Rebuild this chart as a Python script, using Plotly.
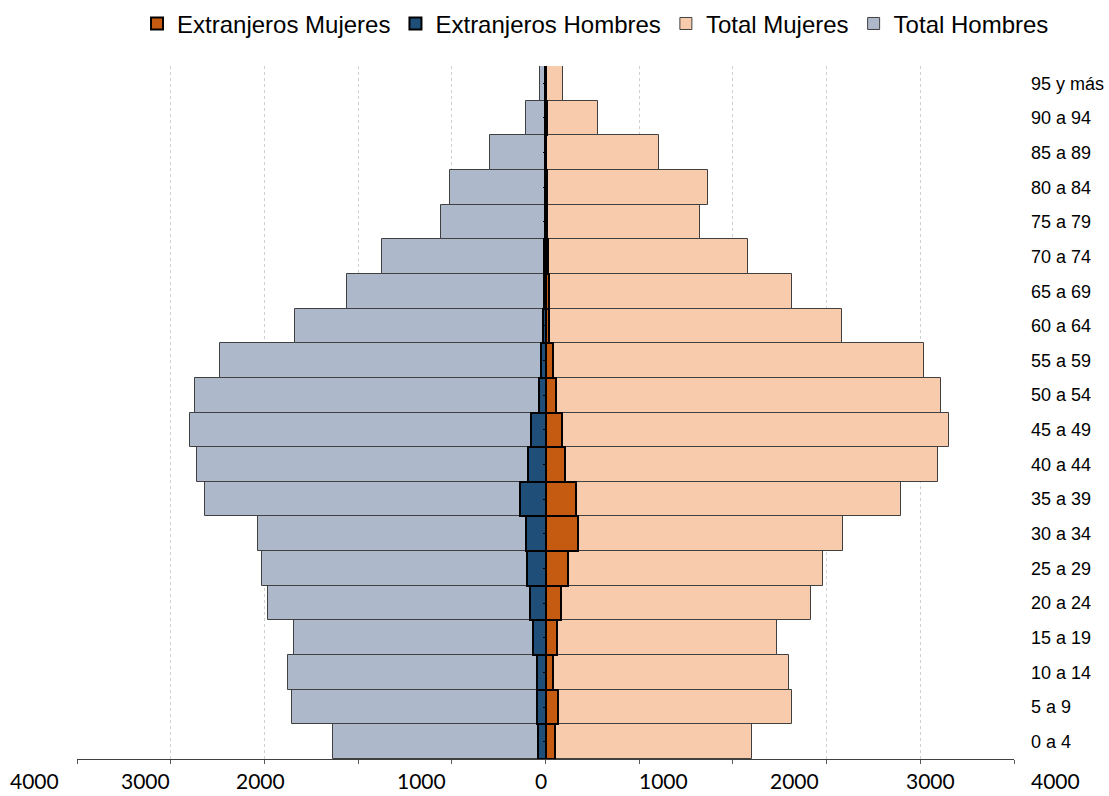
import plotly.graph_objects as go

edades = ['0 a 4', '5 a 9', '10 a 14', '15 a 19', '20 a 24', '25 a 29', '30 a 34',
          '35 a 39', '40 a 44', '45 a 49', '50 a 54', '55 a 59', '60 a 64', '65 a 69',
          '70 a 74', '75 a 79', '80 a 84', '85 a 89', '90 a 94', '95 y más']

total_hombres = [1702, 2033, 2065, 2017, 2225, 2273, 2305, 2729, 2793, 2844,
                 2804, 2609, 2006, 1590, 1307, 835, 768, 445, 160, 48]
total_mujeres = [1649, 1977, 1951, 1849, 2129, 2221, 2381, 2845, 3138, 3229,
                 3165, 3026, 2373, 1975, 1617, 1235, 1297, 912, 422, 139]
ext_hombres = [58, 66, 69, 101, 122, 149, 157, 202, 141, 117,
               50, 37, 22, 12, 12, 7, 7, 4, 7, 3]
ext_mujeres = [72, 102, 62, 96, 123, 179, 264, 246, 158, 134,
               86, 62, 30, 24, 16, 10, 10, 6, 10, 4]

# etiquetas del eje inferior (texto suelto, como en el original)
eje_textos = ['4000', '3000', '2000', '1000', '0', '1000', '2000', '3000', '4000']
eje_pos = [-4092, -3204, -2280, -995, -38, 942, 1997, 3085, 4084]

XMAX = 3750
W, H = 1109, 796
ML, MR, MT, MB = 77, 95, 66, 37

def neg(vals):
    return [-v for v in vals]

fig = go.Figure()
fig.add_trace(go.Bar(
    y=edades, x=neg(total_hombres), name='Total Hombres', orientation='h',
    marker=dict(color='#ADB9CA', line=dict(color='#404040', width=1)),
    legendrank=4
))
fig.add_trace(go.Bar(
    y=edades, x=total_mujeres, name='Total Mujeres', orientation='h',
    marker=dict(color='#F8CBAD', line=dict(color='#404040', width=1)),
    legendrank=3
))
fig.add_trace(go.Bar(
    y=edades, x=neg(ext_hombres), name='Extranjeros Hombres', orientation='h',
    marker=dict(color='#1F4E79', line=dict(color='#000000', width=2)),
    legendrank=2
))
fig.add_trace(go.Bar(
    y=edades, x=ext_mujeres, name='Extranjeros Mujeres', orientation='h',
    marker=dict(color='#C55A11', line=dict(color='#000000', width=2)),
    legendrank=1
))

plot_h = H - MT - MB
annotations = [
    dict(text=t, x=(p + XMAX) / (2 * XMAX), y=-(780 - (H - MB)) / plot_h,
         xref='paper', yref='paper', showarrow=False, xanchor='center', yanchor='middle',
         font=dict(family='Lato, Carlito, sans-serif', size=21, color='#000000'))
    for t, p in zip(eje_textos, eje_pos)
]

fig.update_layout(
    width=W, height=H,
    margin=dict(l=ML, r=MR, t=MT, b=MB, autoexpand=False),
    paper_bgcolor='white', plot_bgcolor='white',
    barmode='overlay', bargap=0,
    showlegend=True,
    legend=dict(
        orientation='h', xref='container', yref='container',
        x=0.537, xanchor='center', y=0.97, yanchor='middle',
        font=dict(family='Liberation Sans, Arial, sans-serif', size=24, color='#000000'),
        itemwidth=30, traceorder='normal'
    ),
    xaxis=dict(
        range=[-XMAX, XMAX], tick0=0, dtick=750, showticklabels=False,
        ticks='outside', ticklen=4, tickcolor='#595959',
        showline=True, linecolor='#404040', linewidth=1,
        showgrid=True, gridcolor='#CFCFCF', griddash='dot', gridwidth=1,
        zeroline=False, fixedrange=True, automargin=False
    ),
    yaxis=dict(
        type='category', range=[-0.5, len(edades) - 0.5], side='right',
        ticks='', ticklabelstandoff=16, showline=False, showgrid=False, automargin=False,
        tickfont=dict(family='Liberation Sans, Arial, sans-serif', size=18, color='#000000')
    ),
    yaxis2=dict(
        overlaying='y', anchor='free', position=0.5, side='left',
        range=[-0.5, len(edades) - 0.5], tickvals=list(range(len(edades))),
        showticklabels=False, ticks='outside', ticklen=3, tickcolor='#000000',
        showline=True, linecolor='#000000', linewidth=1, showgrid=False, zeroline=False,
        automargin=False
    ),
    annotations=annotations,
)

# traza invisible para que el eje secundario exista
fig.add_trace(go.Scatter(x=[0], y=[0], yaxis='y2', mode='markers',
                         marker=dict(opacity=0), showlegend=False, hoverinfo='skip'))

# sin el margen por defecto del body, la figura ocupa la ventana entera
fig.write_html('out.html', config={'displayModeBar': False},
               post_script="document.body.style.margin='0';")
